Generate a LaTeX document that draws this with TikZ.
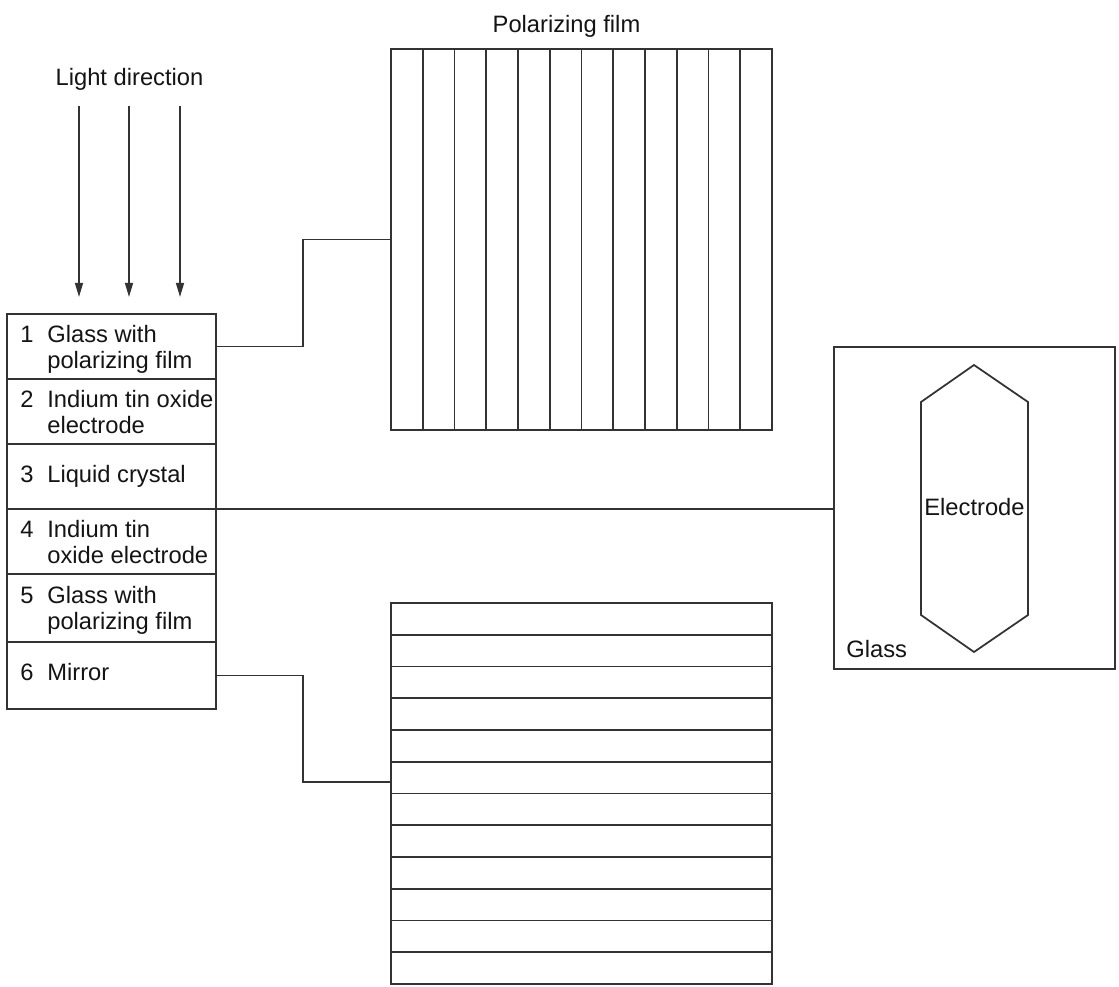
\documentclass[tikz,border=0pt]{standalone}
\usepackage{fontspec}
\setmainfont{Liberation Sans}
\usetikzlibrary{arrows.meta,calc}
\definecolor{linec}{HTML}{333333}
\definecolor{txtc}{HTML}{141414}
\newcommand{\uu}{0.02cm}
\newcommand{\lblfont}{\fontsize{13.5pt}{15pt}\selectfont}
\tikzset{
  ln/.style={draw=linec, line width=1pt},
  boxshape/.style={ln, rectangle, inner sep=0pt, outer sep=0pt},
  lbl/.style={font=\lblfont, text=txtc, inner sep=0pt, anchor=base west},
  clbl/.style={font=\lblfont, text=txtc, inner sep=0pt, anchor=base},
  arr/.style={ln, -{Triangle[length=8pt,width=4.5pt]}},
}
\begin{document}
\begin{tikzpicture}[x=0.02cm,y=-0.02cm]
\useasboundingbox (0,0) rectangle (1119,987);
\fill[white] (0,0) rectangle (1119,987);

% light direction
\node[clbl] (light) at (129.5,85) {Light direction};
\coordinate (a1s) at (79,106);  \coordinate (a1e) at (79,297);
\coordinate (a2s) at (129,106); \coordinate (a2e) at (129,297);
\coordinate (a3s) at (180,106); \coordinate (a3e) at (180,297);
\draw[arr] (a1s) -- (a1e);
\draw[arr] (a2s) -- (a2e);
\draw[arr] (a3s) -- (a3e);

% layer stack
\node[boxshape, minimum width=209*\uu, minimum height=65*\uu] (r1) at (111.5,346.5) {};
\node[boxshape, minimum width=209*\uu, minimum height=65*\uu] (r2) at (111.5,411.5) {};
\node[boxshape, minimum width=209*\uu, minimum height=65*\uu] (r3) at (111.5,476.5) {};
\node[boxshape, minimum width=209*\uu, minimum height=65*\uu] (r4) at (111.5,541.5) {};
\node[boxshape, minimum width=209*\uu, minimum height=68*\uu] (r5) at (111.5,608) {};
\node[boxshape, minimum width=209*\uu, minimum height=67*\uu] (r6) at (111.5,675.5) {};

\node[lbl] (n1) at (20,342) {1};
\node[lbl] (t1a) at (47,342) {Glass with};
\node[lbl] (t1b) at (47,368) {polarizing film};
\node[lbl] (n2) at (20,407) {2};
\node[lbl] (t2a) at (47,407) {Indium tin oxide};
\node[lbl] (t2b) at (47,433) {electrode};
\node[lbl] (n3) at (20,482) {3};
\node[lbl] (t3a) at (47,482) {Liquid crystal};
\node[lbl] (n4) at (20,537) {4};
\node[lbl] (t4a) at (47,537) {Indium tin};
\node[lbl] (t4b) at (47,563) {oxide electrode};
\node[lbl] (n5) at (20,603) {5};
\node[lbl] (t5a) at (47,603) {Glass with};
\node[lbl] (t5b) at (47,629) {polarizing film};
\node[lbl] (n6) at (20,680) {6};
\node[lbl] (t6a) at (47,680) {Mirror};

% top polarizing film
\node[clbl] (pftitle) at (566.5,32) {Polarizing film};
\node[boxshape, minimum width=381*\uu, minimum height=381*\uu] (pf) at (581.5,239.5) {};
\foreach \i in {1,...,11} {
  \draw[ln] ($(pf.north west)+(31.75*\i,0)$) -- ($(pf.south west)+(31.75*\i,0)$);
}

% bottom film
\node[boxshape, minimum width=381*\uu, minimum height=381*\uu] (mf) at (581.5,793.5) {};
\foreach \i in {1,...,11} {
  \draw[ln] ($(mf.north west)+(0,31.75*\i)$) -- ($(mf.north east)+(0,31.75*\i)$);
}

% glass with electrode
\node[boxshape, minimum width=281*\uu, minimum height=322*\uu] (gl) at (974.5,508) {};
\draw[ln, line join=miter] (974,365) -- (1028,402) -- (1028,615) -- (974,652) -- (921,615) -- (921,402) -- cycle;
\node[clbl] (el) at (974.5,515) {Electrode};
\node[lbl] (gltxt) at (846,657) {Glass};

% connectors
\coordinate (k1) at (303,0);
\coordinate (mfin) at (391,782);
\draw[ln] (r1.east) -| (k1 |- pf.west) -- (pf.west);
\draw[ln] (r3.south east) -- (r3.south east -| gl.west);
\draw[ln] (r6.east) -| (k1 |- mfin) -- (mfin);
\end{tikzpicture}
\end{document}
